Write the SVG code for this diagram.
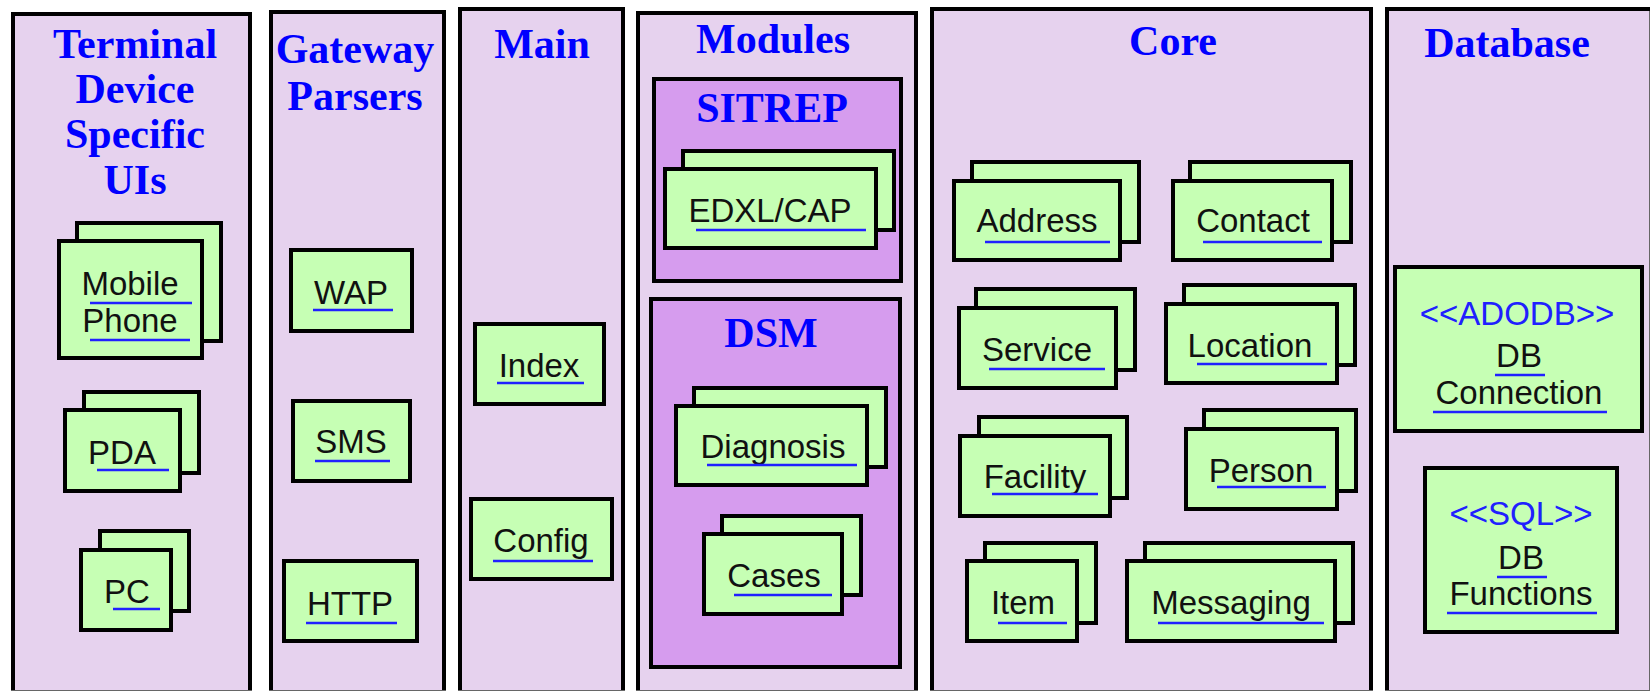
<svg xmlns="http://www.w3.org/2000/svg" width="1650" height="691" viewBox="0 0 1650 691">
<style>
.panel{fill:#E6D2EE;stroke:#000;stroke-width:4}
.module{fill:#D69CEE;stroke:#000;stroke-width:4}
.box{fill:#C6FFB4;stroke:#000;stroke-width:4}
.edge{stroke:#666;stroke-width:1;fill:none}
.title{font-family:"Liberation Serif","Times New Roman",serif;font-weight:bold;font-size:42px;fill:#0000FF;text-anchor:middle}
.lbl{font-family:"Liberation Sans",Arial,sans-serif;font-size:33px;fill:#111;text-anchor:middle}
.st{font-family:"Liberation Sans",Arial,sans-serif;font-size:33px;fill:#2020FF;text-anchor:middle}
.ul{stroke:#2020FF;stroke-width:2.5}
</style>
<rect width="1650" height="691" fill="#fff"/>

<g id="panel-terminal">
<rect class="panel" x="13" y="14" width="237" height="720"/>
<line class="edge" x1="11" y1="690.5" x2="252" y2="690.5"/>
<text class="title" x="135" y="58">Terminal</text>
<text class="title" x="135" y="103">Device</text>
<text class="title" x="135" y="148">Specific</text>
<text class="title" x="135" y="194">UIs</text>
</g>
<g id="panel-gateway">
<rect class="panel" x="271" y="12" width="173" height="720"/>
<line class="edge" x1="269" y1="690.5" x2="446" y2="690.5"/>
<text class="title" x="355" y="63">Gateway</text>
<text class="title" x="355" y="110">Parsers</text>
</g>
<g id="panel-main">
<rect class="panel" x="460" y="9" width="163" height="720"/>
<line class="edge" x1="458" y1="690.5" x2="625" y2="690.5"/>
<text class="title" x="542" y="58">Main</text>
</g>
<g id="panel-modules">
<rect class="panel" x="638" y="13" width="278" height="720"/>
<line class="edge" x1="636" y1="690.5" x2="918" y2="690.5"/>
<text class="title" x="773" y="53">Modules</text>
</g>
<g id="panel-core">
<rect class="panel" x="932" y="9" width="439" height="720"/>
<line class="edge" x1="930" y1="690.5" x2="1373" y2="690.5"/>
<text class="title" x="1173" y="55">Core</text>
</g>
<g id="panel-database">
<rect class="panel" x="1387" y="9" width="300" height="720"/>
<line class="edge" x1="1385" y1="690.5" x2="1650" y2="690.5"/>
<line class="edge" x1="1649.5" y1="11" x2="1649.5" y2="691"/>
<text class="title" x="1507" y="57">Database</text>
</g>

<g id="module-sitrep">
<rect class="module" x="654" y="79" width="247" height="202"/>
<text class="title" x="772" y="122">SITREP</text>
</g>
<g id="module-dsm">
<rect class="module" x="651" y="299" width="249" height="368"/>
<text class="title" x="771" y="347">DSM</text>
</g>

<g id="node-mobile-phone">
<rect class="box" x="77" y="223" width="144" height="118"/>
<rect class="box" x="59" y="241" width="143" height="117"/>
<text class="lbl" x="130" y="295">Mobile</text>
<text class="lbl" x="130" y="332">Phone</text>
<line class="ul" x1="90" y1="303" x2="192" y2="303"/>
<line class="ul" x1="90" y1="340" x2="190" y2="340"/>
</g>
<g id="node-pda">
<rect class="box" x="84" y="392" width="115" height="81"/>
<rect class="box" x="65" y="410" width="115" height="81"/>
<text class="lbl" x="122" y="464">PDA</text>
<line class="ul" x1="97" y1="470" x2="169" y2="470"/>
</g>
<g id="node-pc">
<rect class="box" x="100" y="531" width="89" height="80"/>
<rect class="box" x="81" y="550" width="90" height="80"/>
<text class="lbl" x="127" y="603">PC</text>
<line class="ul" x1="113" y1="609" x2="160" y2="609"/>
</g>

<g id="node-wap">
<rect class="box" x="291" y="250" width="121" height="81"/>
<text class="lbl" x="351" y="304">WAP</text>
<line class="ul" x1="313" y1="310" x2="393" y2="310"/>
</g>
<g id="node-sms">
<rect class="box" x="293" y="401" width="117" height="80"/>
<text class="lbl" x="351" y="453">SMS</text>
<line class="ul" x1="315" y1="461" x2="390" y2="461"/>
</g>
<g id="node-http">
<rect class="box" x="284" y="561" width="133" height="80"/>
<text class="lbl" x="350" y="615">HTTP</text>
<line class="ul" x1="306" y1="623" x2="397" y2="623"/>
</g>

<g id="node-index">
<rect class="box" x="475" y="324" width="129" height="80"/>
<text class="lbl" x="539" y="377">Index</text>
<line class="ul" x1="497" y1="383" x2="584" y2="383"/>
</g>
<g id="node-config">
<rect class="box" x="471" y="499" width="141" height="80"/>
<text class="lbl" x="541" y="552">Config</text>
<line class="ul" x1="493" y1="561" x2="593" y2="561"/>
</g>

<g id="node-edxl-cap">
<rect class="box" x="683" y="151" width="211" height="79"/>
<rect class="box" x="665" y="169" width="211" height="79"/>
<text class="lbl" x="770" y="222">EDXL/CAP</text>
<line class="ul" x1="696" y1="230" x2="866" y2="230"/>
</g>
<g id="node-diagnosis">
<rect class="box" x="694" y="388" width="192" height="79"/>
<rect class="box" x="676" y="406" width="191" height="79"/>
<text class="lbl" x="773" y="458">Diagnosis</text>
<line class="ul" x1="707" y1="465" x2="857" y2="465"/>
</g>
<g id="node-cases">
<rect class="box" x="722" y="516" width="139" height="79"/>
<rect class="box" x="704" y="534" width="138" height="80"/>
<text class="lbl" x="774" y="587">Cases</text>
<line class="ul" x1="734" y1="595" x2="832" y2="595"/>
</g>

<g id="node-address">
<rect class="box" x="972" y="162" width="167" height="80"/>
<rect class="box" x="954" y="181" width="166" height="79"/>
<text class="lbl" x="1037" y="232">Address</text>
<line class="ul" x1="985" y1="242" x2="1110" y2="242"/>
</g>
<g id="node-contact">
<rect class="box" x="1190" y="162" width="161" height="80"/>
<rect class="box" x="1173" y="181" width="159" height="79"/>
<text class="lbl" x="1253" y="232">Contact</text>
<line class="ul" x1="1203" y1="242" x2="1322" y2="242"/>
</g>
<g id="node-service">
<rect class="box" x="976" y="289" width="159" height="81"/>
<rect class="box" x="959" y="308" width="157" height="80"/>
<text class="lbl" x="1037" y="361">Service</text>
<line class="ul" x1="989" y1="369" x2="1105" y2="369"/>
</g>
<g id="node-location">
<rect class="box" x="1184" y="285" width="171" height="80"/>
<rect class="box" x="1166" y="304" width="171" height="79"/>
<text class="lbl" x="1250" y="357">Location</text>
<line class="ul" x1="1197" y1="364" x2="1327" y2="364"/>
</g>
<g id="node-facility">
<rect class="box" x="979" y="417" width="148" height="81"/>
<rect class="box" x="960" y="436" width="150" height="80"/>
<text class="lbl" x="1035" y="488">Facility</text>
<line class="ul" x1="992" y1="494" x2="1098" y2="494"/>
</g>
<g id="node-person">
<rect class="box" x="1204" y="410" width="152" height="81"/>
<rect class="box" x="1186" y="429" width="151" height="80"/>
<text class="lbl" x="1261" y="482">Person</text>
<line class="ul" x1="1217" y1="487" x2="1326" y2="487"/>
</g>
<g id="node-item">
<rect class="box" x="985" y="543" width="111" height="80"/>
<rect class="box" x="967" y="561" width="110" height="80"/>
<text class="lbl" x="1023" y="614">Item</text>
<line class="ul" x1="998" y1="623" x2="1067" y2="623"/>
</g>
<g id="node-messaging">
<rect class="box" x="1145" y="543" width="208" height="80"/>
<rect class="box" x="1127" y="561" width="208" height="80"/>
<text class="lbl" x="1231" y="614">Messaging</text>
<line class="ul" x1="1158" y1="623" x2="1324" y2="623"/>
</g>

<g id="node-db-connection">
<rect class="box" x="1395" y="267" width="247" height="164"/>
<text class="st" x="1517" y="325">&lt;&lt;ADODB&gt;&gt;</text>
<text class="lbl" x="1519" y="367">DB</text>
<text class="lbl" x="1519" y="404">Connection</text>
<line class="ul" x1="1495" y1="375" x2="1545" y2="375"/>
<line class="ul" x1="1433" y1="412" x2="1607" y2="412"/>
</g>
<g id="node-db-functions">
<rect class="box" x="1425" y="468" width="192" height="164"/>
<text class="st" x="1521" y="525">&lt;&lt;SQL&gt;&gt;</text>
<text class="lbl" x="1521" y="569">DB</text>
<text class="lbl" x="1521" y="605">Functions</text>
<line class="ul" x1="1497" y1="577" x2="1547" y2="577"/>
<line class="ul" x1="1447" y1="613" x2="1597" y2="613"/>
</g>

<g id="connectors"/>
</svg>
